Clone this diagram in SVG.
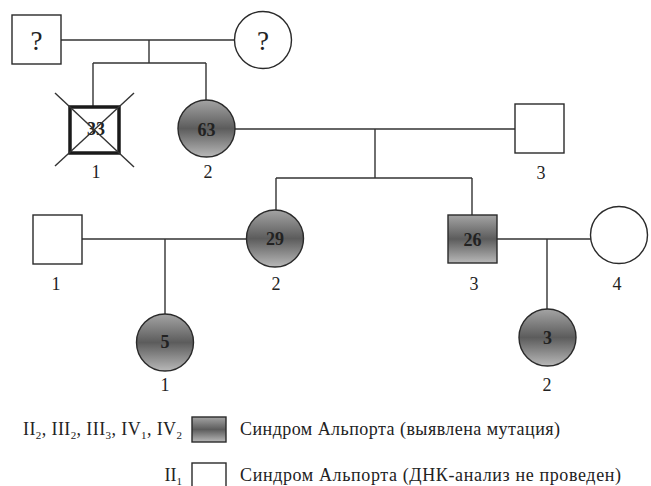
<svg xmlns="http://www.w3.org/2000/svg" width="651" height="486" viewBox="0 0 651 486">
<defs>
<linearGradient id="g" x1="0" y1="0" x2="0" y2="1">
<stop offset="0" stop-color="#a4a4a4"/>
<stop offset="0.5" stop-color="#5c5c5c"/>
<stop offset="1" stop-color="#b8b8b8"/>
</linearGradient>
<style>
.ln{stroke:#333;stroke-width:1.4;fill:none}
.nd{stroke:#2a2a2a;stroke-width:1.4;fill:#fff}
.af{stroke:#2a2a2a;stroke-width:1.4;fill:url(#g)}
.t{font-family:"Liberation Serif","Times New Roman",serif;font-size:18px;fill:#222}
.n{font-family:"Liberation Serif","Times New Roman",serif;font-size:18px;font-weight:bold;fill:#222;text-anchor:middle}
.lb{font-family:"Liberation Serif","Times New Roman",serif;font-size:18px;fill:#222;text-anchor:middle}
.q{font-family:"Liberation Serif","Times New Roman",serif;font-size:27px;fill:#222;text-anchor:middle}
.sub{font-size:11px}
</style>
</defs>
<g id="connectors">
<line class="ln" x1="61" y1="40" x2="234" y2="40"/>
<line class="ln" x1="149" y1="40" x2="149" y2="63"/>
<line class="ln" x1="93" y1="63" x2="206" y2="63"/>
<line class="ln" x1="93" y1="63" x2="93" y2="106"/>
<line class="ln" x1="206" y1="63" x2="206" y2="100"/>
<line class="ln" x1="235" y1="129" x2="515" y2="129"/>
<line class="ln" x1="375" y1="129" x2="375" y2="178"/>
<line class="ln" x1="276" y1="178" x2="472" y2="178"/>
<line class="ln" x1="276" y1="178" x2="276" y2="210"/>
<line class="ln" x1="472" y1="178" x2="472" y2="215"/>
<line class="ln" x1="82" y1="239" x2="247" y2="239"/>
<line class="ln" x1="165" y1="239" x2="165" y2="314"/>
<line class="ln" x1="497" y1="239" x2="591" y2="239"/>
<line class="ln" x1="547" y1="239" x2="547" y2="309"/>
</g>
<g id="I1">
<rect class="nd" x="12" y="15" width="49" height="49"/>
<text class="q" x="36.5" y="50">?</text>
</g>
<g id="I2">
<circle class="nd" cx="263" cy="40" r="28.5"/>
<text class="q" x="263" y="50">?</text>
</g>
<g id="II1">
<rect x="70" y="107" width="49" height="46" fill="#fff" stroke="#1a1a1a" stroke-width="3.5"/>
<text class="n" x="96" y="135">33</text>
<line class="ln" x1="55" y1="93" x2="134" y2="167"/>
<line class="ln" x1="134" y1="93" x2="55" y2="166"/>
<text class="lb" x="96" y="178">1</text>
</g>
<g id="II2">
<circle class="af" cx="206.5" cy="128.5" r="28.5"/>
<text class="n" x="206.5" y="136">63</text>
<text class="lb" x="208" y="178">2</text>
</g>
<g id="II3">
<rect class="nd" x="515" y="104" width="49" height="49"/>
<text class="lb" x="541" y="179">3</text>
</g>
<g id="III1">
<rect class="nd" x="33" y="215" width="49" height="49"/>
<text class="lb" x="56" y="290">1</text>
</g>
<g id="III2">
<circle class="af" cx="275" cy="238.5" r="28.5"/>
<text class="n" x="275" y="245">29</text>
<text class="lb" x="276" y="290">2</text>
</g>
<g id="III3">
<rect class="af" x="448" y="215" width="49" height="48"/>
<text class="n" x="472.5" y="245.5">26</text>
<text class="lb" x="474" y="290">3</text>
</g>
<g id="III4">
<circle class="nd" cx="619" cy="235" r="28.5"/>
<text class="lb" x="617" y="290">4</text>
</g>
<g id="IV1">
<circle class="af" cx="165" cy="342.5" r="28.5"/>
<text class="n" x="165" y="348">5</text>
<text class="lb" x="165" y="391">1</text>
</g>
<g id="IV2">
<circle class="af" cx="547.5" cy="337.5" r="28.5"/>
<text class="n" x="547.5" y="344">3</text>
<text class="lb" x="547" y="391">2</text>
</g>
<g id="legend">
<text class="t" x="23" y="435" textLength="159">II<tspan class="sub" dy="4">2</tspan><tspan dy="-4">, III</tspan><tspan class="sub" dy="4">2</tspan><tspan dy="-4">, III</tspan><tspan class="sub" dy="4">3</tspan><tspan dy="-4">, IV</tspan><tspan class="sub" dy="4">1</tspan><tspan dy="-4">, IV</tspan><tspan class="sub" dy="4">2</tspan></text>
<rect class="af" x="192" y="417" width="34" height="25"/>
<text class="t" x="240" y="435" textLength="320">Синдром Альпорта (выявлена мутация)</text>
<text class="t" x="182" y="481" text-anchor="end">II<tspan class="sub" dy="4">1</tspan></text>
<rect class="nd" x="192" y="463" width="34" height="30"/>
<text class="t" x="240" y="481" textLength="381">Синдром Альпорта (ДНК-анализ не проведен)</text>
</g>
</svg>
